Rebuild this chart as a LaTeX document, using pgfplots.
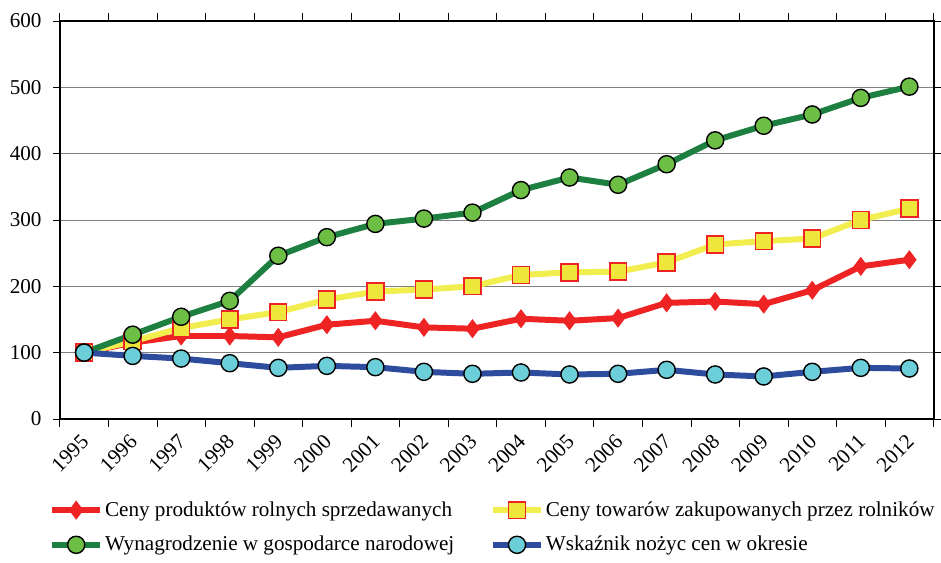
\documentclass[border=0pt]{standalone}
\usepackage{pgfplots}
\pgfplotsset{compat=1.18}
\usepackage{fontspec}
\setmainfont{LiberationSerif-Regular.ttf}[BoldFont=LiberationSerif-Bold.ttf]
\definecolor{cred}{HTML}{EE2424}
\definecolor{cyel}{HTML}{F2EE50}
\definecolor{cyelfill}{HTML}{EEE63A}
\definecolor{cgreen}{HTML}{1E8040}
\definecolor{cgreenfill}{HTML}{6CBE45}
\definecolor{cblue}{HTML}{2E4C9E}
\definecolor{cbluefill}{HTML}{6CCED8}
\begin{document}
\begin{tikzpicture}
\begin{axis}[
    scale only axis,
    width=438pt, height=199.5pt,
    font=\fontsize{10.6}{12.5}\selectfont,
    /pgf/number format/assume math mode=true,
    xmin=-0.5, xmax=17.5,
    ymin=0, ymax=600,
    ytick={0,100,...,600},
    xtick={0,...,17},
    xticklabels={1995,1996,1997,1998,1999,2000,2001,2002,2003,2004,2005,2006,2007,2008,2009,2010,2011,2012},
    minor xtick={-0.5,0.5,...,17.5},
    tick align=outside,
    major x tick style={draw=none},
    minor tick length=4pt,
    major tick length=3.5pt,
    tick style={black, thin},
    yticklabel style={inner sep=1pt, xshift=-4.5pt},
    xticklabel style={rotate=45, anchor=north east, inner sep=0pt, yshift=-1pt, xshift=-4pt},
    axis line style={black, line width=1pt},
    ymajorgrids,
    grid style={gray, thin},
    legend columns=2,
    legend style={draw=none, at={(1.0034,-0.197)}, anchor=north east,
        inner sep=0pt, outer sep=0pt, font=\fontsize{10.6}{12.5}\selectfont,
        /tikz/every even column/.append style={column sep=17pt}, row sep=4.5pt,
        nodes={inner xsep=1pt}},
    legend cell align=left,
    legend image code/.code={
        \draw[#1, mark=none] (0cm,0cm) -- (0.84cm,0cm);
        \draw[#1, only marks] plot coordinates {(0.42cm,0cm)};
    },
]
\addplot[cred, line width=3pt, mark=diamond*, mark size=4.4pt,
    mark options={fill=cred, draw=cred, line width=0.5pt}] coordinates {
(0,100) (1,115) (2,125) (3,125) (4,123) (5,142) (6,148) (7,138) (8,136) (9,151)
(10,148) (11,152) (12,175) (13,177) (14,173) (15,194) (16,230) (17,240)};
\addlegendentry{Ceny produktów rolnych sprzedawanych}
\addplot[cyel, line width=3pt, mark=square*, mark size=4.2pt,
    mark options={fill=cyelfill, draw=cred, line width=0.8pt}] coordinates {
(0,100) (1,117) (2,137) (3,150) (4,161) (5,180) (6,192) (7,195) (8,200) (9,217)
(10,221) (11,222) (12,236) (13,263) (14,268) (15,272) (16,300) (17,317)};
\addlegendentry{Ceny towarów zakupowanych przez rolników}
\addplot[cgreen, line width=3pt, mark=*, mark size=4.3pt,
    mark options={fill=cgreenfill, draw=black, line width=0.7pt}] coordinates {
(0,100) (1,127) (2,154) (3,178) (4,246) (5,274) (6,294) (7,302) (8,311) (9,345)
(10,364) (11,353) (12,384) (13,420) (14,442) (15,459) (16,484) (17,501)};
\addlegendentry{Wynagrodzenie w gospodarce narodowej}
\addplot[cblue, line width=3pt, mark=*, mark size=4.3pt,
    mark options={fill=cbluefill, draw=black, line width=0.7pt}] coordinates {
(0,100) (1,95) (2,91) (3,84) (4,77) (5,80) (6,78) (7,71) (8,68) (9,70)
(10,67) (11,68) (12,74) (13,67) (14,64) (15,71) (16,77) (17,76)};
\addlegendentry{Wskaźnik nożyc cen w okresie}
\end{axis}
\path (current axis.north west) ++(-30pt,10.5pt);
\path (current axis.south east) ++(1pt,-72pt);
\end{tikzpicture}
\end{document}
